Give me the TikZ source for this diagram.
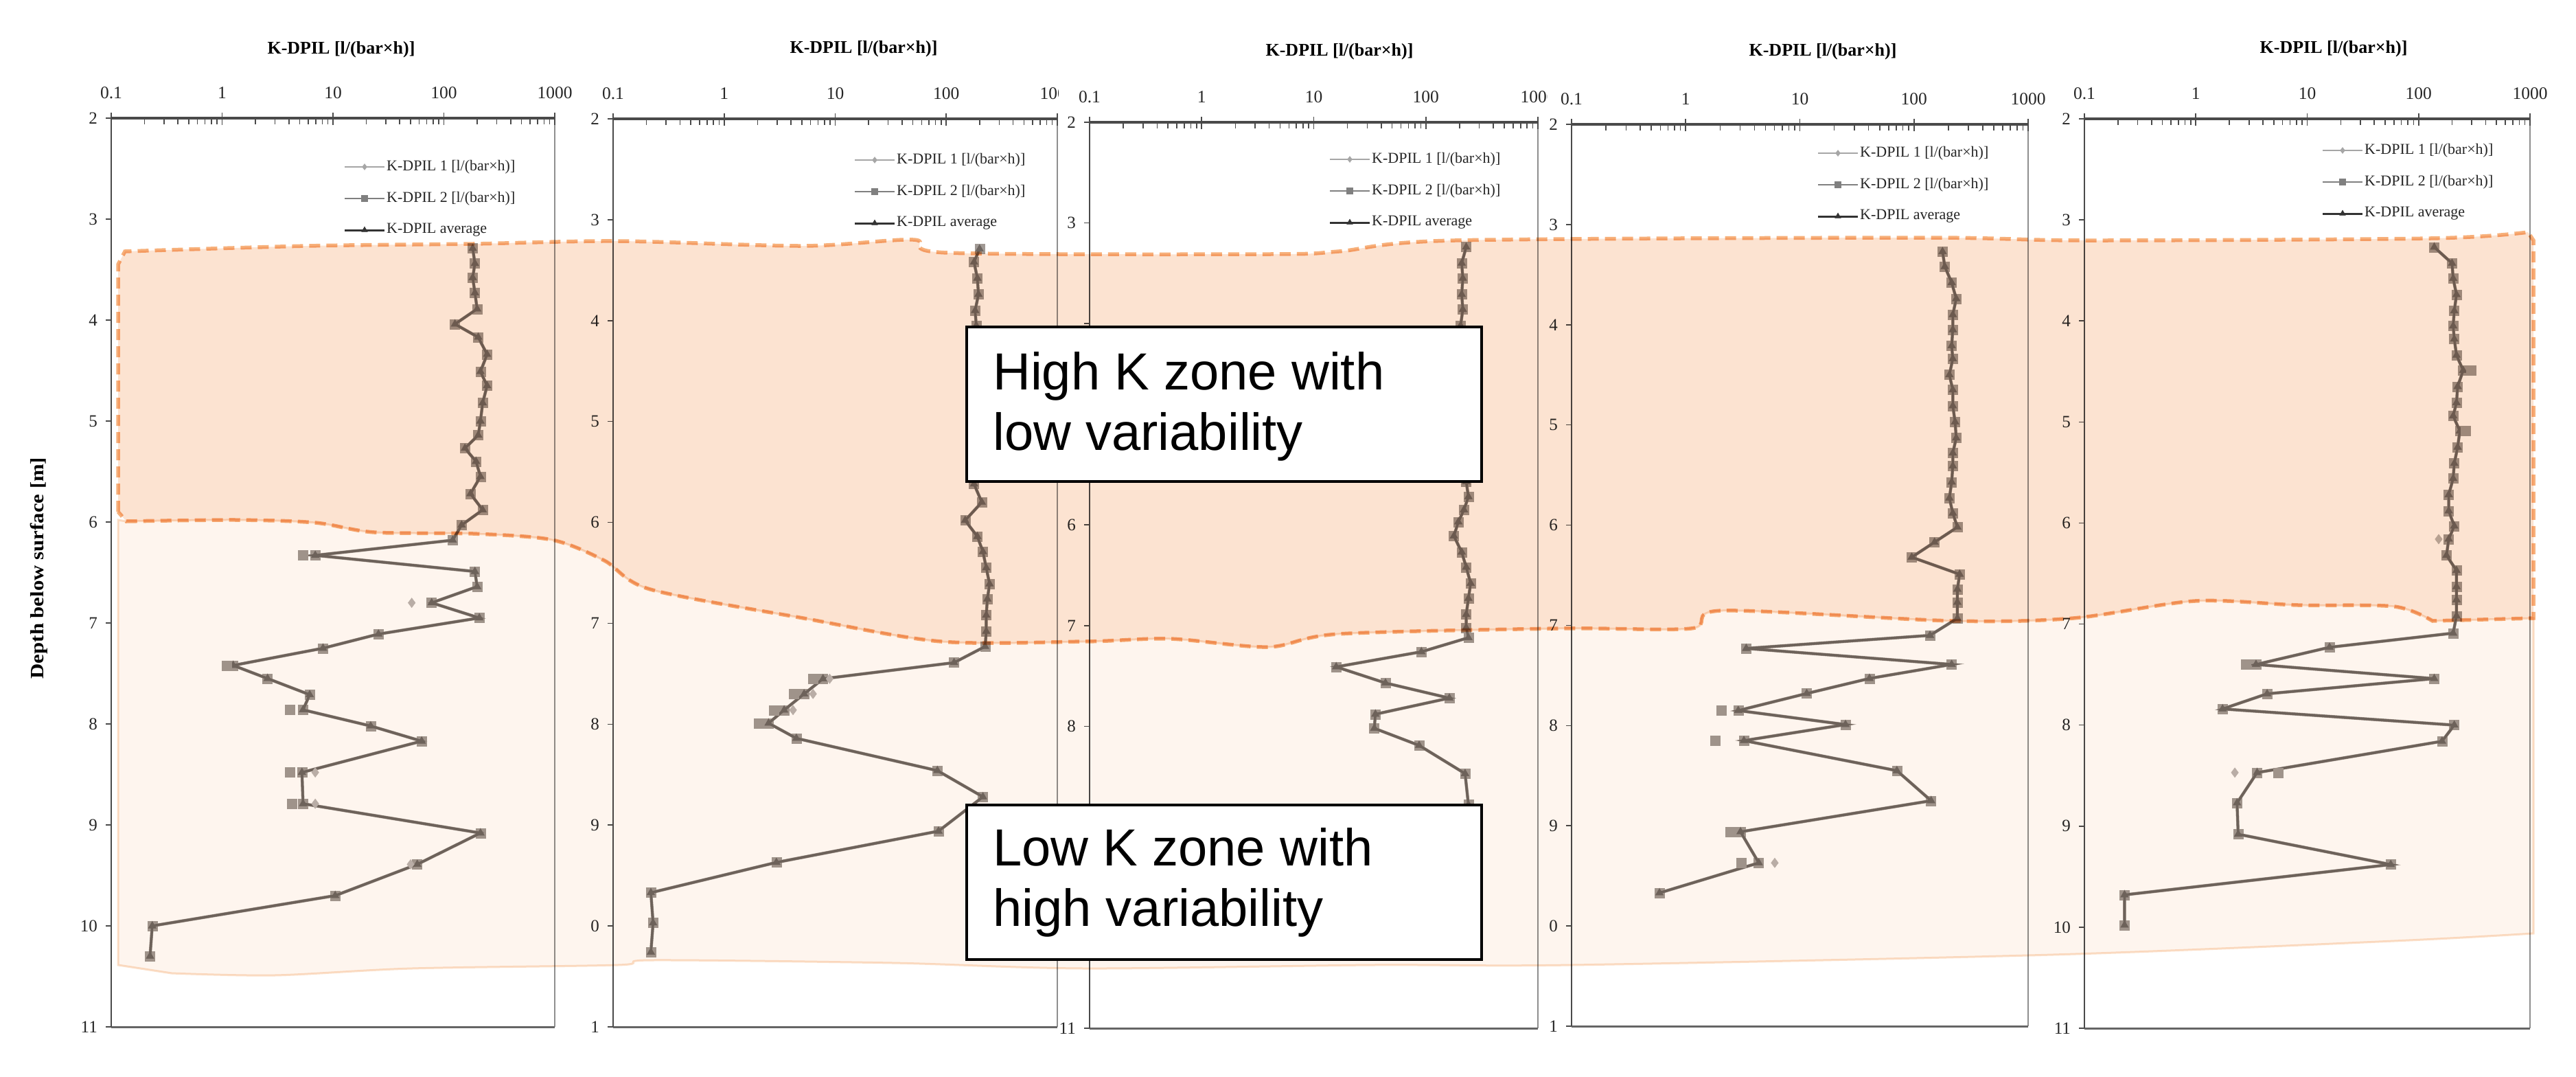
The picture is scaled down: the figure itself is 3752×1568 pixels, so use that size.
\documentclass[tikz,border=0pt]{standalone}
\usepackage{fontspec}
\setmainfont{Liberation Serif}
\newfontfamily\boxfont{Liberation Sans}
\usetikzlibrary{plotmarks}
\definecolor{axcol}{HTML}{4A4A4A}
\definecolor{rcol}{HTML}{8F8F8F}
\definecolor{diacol}{HTML}{BAB5B2}
\definecolor{sqcol}{HTML}{A09994}
\definecolor{avgcol}{HTML}{6E6661}
\definecolor{hzfill}{HTML}{FCE3D1}
\definecolor{hzline}{HTML}{F7B07A}
\definecolor{lzfill}{HTML}{FEF5EE}
\definecolor{lzline}{HTML}{FBDFC8}
\tikzset{
  lframe/.style={draw=axcol, line width=2.5pt},
  rframe/.style={draw=rcol, line width=2pt},
  bframe/.style={draw=axcol!85, line width=3pt},
  taxis/.style={draw=axcol, line width=3.5pt},
  tickm/.style={draw=axcol, line width=1.6pt},
  ticklab/.style={font=\fontsize{25.5}{25.5}\selectfont, inner sep=0pt, text=black!85, yshift=37pt},
  depthlab/.style={font=\fontsize{25}{25}\selectfont, anchor=east, inner sep=0pt, xshift=-20pt, text=black!85},
  ptitle/.style={font=\bfseries\fontsize{26}{26}\selectfont, inner sep=0pt},
  legtext/.style={font=\fontsize{22}{22}\selectfont, anchor=west, inner sep=0pt, text=black!85},
  dia/.style={draw=diacol, line width=2.8pt, mark=diamond*, mark size=7pt, mark options={fill=diacol, draw=diacol, line width=0.5pt}},
  sq/.style={draw=sqcol, line width=4.5pt, mark=square*, mark size=7pt, mark options={fill=sqcol, draw=sqcol, line width=0.5pt}},
  avg/.style={draw=avgcol, line width=3.6pt, mark=triangle*, mark size=6.5pt, mark options={fill=avgcol, draw=avgcol, line width=0.5pt}},
  legdia/.style={draw=black!35, line width=2pt, mark=diamond*, mark size=4.5pt, mark options={fill=black!35, draw=black!35, line width=0.4pt}},
  legsq/.style={draw=black!50, line width=2.4pt, mark=square*, mark size=4.5pt, mark options={fill=black!50, draw=black!50, line width=0.4pt}},
  legavg/.style={draw=black!80, line width=3pt, mark=triangle*, mark size=5pt, mark options={fill=black!80, draw=black!80, line width=0.4pt}},
  hzone/.style={fill=hzfill, blend mode=multiply},
  hzborder/.style={draw=hzline, line width=5.5pt, dash pattern=on 16pt off 9pt, blend mode=multiply},
  lzone/.style={fill=lzfill, draw=lzline, line width=3pt, blend mode=multiply},
  zbox/.style={draw=black, fill=white, line width=4pt, inner sep=0pt, anchor=north west, minimum width=750pt, minimum height=225pt},
  btext/.style={font=\boxfont\fontsize{76}{88}\selectfont, anchor=base west, inner sep=0pt},
  ylab/.style={font=\bfseries\fontsize{27.5}{27.5}\selectfont, inner sep=0pt, rotate=90}
}
% axes of one panel, drawn in data coordinates (log10 K, depth)
% #1 name, #2 list depth/label, #3 code for the last top label
\newcommand\axes[3]{%
  \draw[rframe] (3,2) -- (3,11);
  \draw[bframe] (-1,11) -- (3,11);
  \draw[lframe] (-1,2) -- (-1,11);
  \foreach \i in {-1,0,1,2}{\foreach \mm in {2,...,9}{\draw[tickm] ({\i+log10(\mm)},2) -- ++(0pt,-9pt);}}
  \foreach \i in {-1,...,3}{\draw[tickm] (\i,2) ++(0pt,8pt) -- ++(0pt,-18pt);}
  \draw[taxis] (-1,2) -- (3,2);
  \foreach \i/\lab in {0/0.1,1/1,2/10,3/100}{\node[ticklab] (#1-x\i) at ({\i-1},2) {\lab};}
  #3
  \foreach \d in {2,...,11}{\draw[tickm] (-1,\d) -- ++(-8pt,0pt);}
  \foreach \d/\lab in {#2}{\node[depthlab] (#1-d\d) at (-1,\d) {\lab};}
}
\newcommand\legendbox[3]{%
  \draw[legdia] (#2,#3) -- ++(58,0); \draw[legdia] plot coordinates {({#2+29},#3)};
  \node[legtext] (#1-l1) at ({#2+61},#3) {K-DPIL 1 [l/(bar×h)]};
  \draw[legsq] (#2,{#3+46}) -- ++(58,0); \draw[legsq] plot coordinates {({#2+29},{#3+46})};
  \node[legtext] (#1-l2) at ({#2+61},{#3+46}) {K-DPIL 2 [l/(bar×h)]};
  \draw[legavg] (#2,{#3+92}) -- ++(58,0); \draw[legavg] plot coordinates {({#2+29},{#3+92})};
  \node[legtext] (#1-l3) at ({#2+61},{#3+92}) {K-DPIL average};
}
% data of the five profiles
\newcommand\dA[1]{\draw[#1] plot coordinates {(2.26,3.29) (2.28,3.44) (2.26,3.58) (2.28,3.73) (2.30,3.89) (2.10,4.04) (2.31,4.17) (2.39,4.34) (2.33,4.51) (2.39,4.65) (2.35,4.82) (2.33,5.00) (2.31,5.14) (2.19,5.27) (2.29,5.40) (2.33,5.55) (2.24,5.72) (2.35,5.88) (2.16,6.03) (2.08,6.18) (0.84,6.33) (2.28,6.49) (2.30,6.64) (1.89,6.80) (2.32,6.95) (1.41,7.11) (0.91,7.25) (0.10,7.42) (0.41,7.55) (0.79,7.71) (0.73,7.86) (1.34,8.02) (1.80,8.17) (0.72,8.48) (0.73,8.79) (2.33,9.08) (1.76,9.39) (1.02,9.70) (-0.63,10.00) (-0.65,10.30)};}
\newcommand\dB[1]{\draw[#1] plot coordinates {(2.30,3.29) (2.25,3.42) (2.28,3.58) (2.29,3.74) (2.26,3.90) (2.27,4.05) (2.29,4.21) (2.27,4.36) (2.30,4.52) (2.28,4.67) (2.29,4.83) (2.27,4.98) (2.30,5.14) (2.28,5.29) (2.29,5.45) (2.25,5.62) (2.32,5.80) (2.17,5.98) (2.28,6.14) (2.33,6.29) (2.36,6.45) (2.39,6.61) (2.37,6.76) (2.36,6.92) (2.36,7.08) (2.35,7.23) (2.07,7.39) (0.89,7.55) (0.72,7.70) (0.54,7.86) (0.40,7.99) (0.65,8.14) (1.92,8.46) (2.33,8.72) (1.93,9.06) (0.47,9.37) (-0.66,9.67) (-0.64,9.97) (-0.66,10.26)};}
\newcommand\dC[1]{\draw[#1] plot coordinates {(2.36,3.24) (2.32,3.40) (2.33,3.55) (2.32,3.71) (2.33,3.86) (2.31,4.02) (2.34,4.17) (2.32,4.33) (2.35,4.48) (2.33,4.64) (2.31,4.79) (2.34,4.95) (2.32,5.10) (2.35,5.26) (2.33,5.41) (2.36,5.57) (2.38,5.72) (2.34,5.85) (2.29,5.97) (2.25,6.11) (2.32,6.27) (2.36,6.42) (2.40,6.58) (2.38,6.73) (2.36,6.89) (2.36,7.02) (2.38,7.12) (1.96,7.26) (1.20,7.41) (1.64,7.57) (2.21,7.72) (1.55,7.88) (1.54,8.02) (1.94,8.19) (2.35,8.47) (2.38,8.78) (2.20,9.08) (0.60,9.38) (-0.62,9.68) (-0.62,9.98) (-0.64,10.28)};}
\newcommand\dD[1]{\draw[#1] plot coordinates {(2.25,3.27) (2.27,3.42) (2.33,3.58) (2.37,3.74) (2.34,3.90) (2.34,4.05) (2.33,4.21) (2.34,4.34) (2.31,4.50) (2.34,4.65) (2.34,4.81) (2.36,4.97) (2.37,5.13) (2.34,5.28) (2.34,5.41) (2.33,5.57) (2.31,5.73) (2.34,5.88) (2.38,6.02) (2.18,6.17) (1.98,6.32) (2.40,6.49) (2.38,6.64) (2.38,6.77) (2.38,6.93) (2.14,7.10) (0.53,7.23) (2.33,7.39) (1.61,7.53) (1.06,7.68) (0.46,7.85) (1.40,7.99) (0.51,8.15) (1.85,8.45) (2.15,8.75) (0.48,9.06) (0.64,9.37) (-0.23,9.67)};}
\newcommand\dE[1]{\draw[#1] plot coordinates {(2.14,3.27) (2.30,3.43) (2.31,3.58) (2.34,3.74) (2.32,3.90) (2.31,4.05) (2.32,4.18) (2.34,4.34) (2.40,4.49) (2.35,4.65) (2.34,4.81) (2.31,4.94) (2.37,5.09) (2.35,5.25) (2.32,5.41) (2.31,5.56) (2.27,5.72) (2.27,5.88) (2.32,6.03) (2.27,6.16) (2.25,6.32) (2.34,6.47) (2.34,6.63) (2.34,6.76) (2.34,6.92) (2.31,7.09) (1.20,7.23) (0.54,7.40) (2.14,7.54) (0.64,7.69) (0.24,7.84) (2.32,8.00) (2.21,8.16) (0.55,8.47) (0.37,8.77) (0.38,9.08) (1.75,9.38) (-0.64,9.68) (-0.64,9.98)};}
\begin{document}
\begin{tikzpicture}[x=1pt,y=-1pt]
\useasboundingbox (0,0) rectangle (3752,1568);
\fill[white] (0,0) rectangle (3752,1568);

% ---------------- panel 1
\begin{scope}[shift={(323.5,-122)}, x=161.5pt, y=-147pt]
  \axes{p1}{2/2,3/3,4/4,5/5,6/6,7/7,8/8,9/9,10/10,11/11}{\node[ticklab] (p1-x4) at (3,2) {1000};}
  \dA{dia} \dA{sq} \dA{avg}
  \draw[dia] plot[only marks] coordinates {(1.71,6.80) (0.84,8.48) (0.84,8.79) (1.70,9.39)};
  \draw[sq] plot[only marks] coordinates {(0.73,6.33) (0.61,7.86) (0.61,8.48) (0.63,8.79) (0.04,7.42)};
\end{scope}
% ---------------- panel 2
\begin{scope}[shift={(1054.75,-120.78)}, x=161.75pt, y=-146.89pt]
  \axes{p2}{2/2,3/3,4/4,5/5,6/6,7/7,8/8,9/9,10/0,11/1}{\begin{scope}\clip (2.6,1.3) rectangle (3.012,1.95); \node[ticklab] (p2-x4) at (3,2) {1000};\end{scope}}
  \dB{dia} \dB{sq} \dB{avg}
  \draw[dia] plot[only marks] coordinates {(0.95,7.55) (0.80,7.70) (0.62,7.86)};
  \draw[sq] plot[only marks] coordinates {(0.80,7.55) (0.63,7.70) (0.45,7.86) (0.31,7.99)};
\end{scope}
% ---------------- panel 3
\begin{scope}[shift={(1750.25,-115.11)}, x=163.25pt, y=-146.56pt]
  \axes{p3}{2/2,3/3,6/6,7/7,8/8,11/11}{\begin{scope}\clip (2.6,1.3) rectangle (3.08,1.95); \node[ticklab] (p3-x4) at (3,2) {1000};\end{scope}}
  \dC{dia} \dC{sq} \dC{avg}
\end{scope}
% ---------------- panel 4
\begin{scope}[shift={(2455.25,-110.78)}, x=166.25pt, y=-145.89pt]
  \axes{p4}{2/2,3/3,4/4,5/5,6/6,7/7,8/8,9/9,10/0,11/1}{\node[ticklab] (p4-x4) at (3,2) {1000};}
  \dD{dia} \dD{sq} \dD{avg}
  \draw[dia] plot[only marks] coordinates {(0.78,9.37)};
  \draw[sq] plot[only marks] coordinates {(0.31,7.85) (0.26,8.15) (0.39,9.06) (0.49,9.37)};
\end{scope}
% ---------------- panel 5
\begin{scope}[shift={(3198.25,-121.22)}, x=162.25pt, y=-147.11pt]
  \axes{p5}{2/2,3/3,4/4,5/5,6/6,7/7,8/8,9/9,10/10,11/11}{\node[ticklab] (p5-x4) at (3,2) {1000};}
  \dE{dia} \dE{sq} \dE{avg}
  \draw[dia] plot[only marks] coordinates {(0.35,8.47) (2.18,6.16)};
  \draw[sq] plot[only marks] coordinates {(0.45,7.40) (0.74,8.47) (2.47,4.49) (2.42,5.09)};
\end{scope}

% titles and legends
\node[ptitle] (t1) at (497,72) {K-DPIL [l/(bar×h)]};
\node[ptitle] (t2) at (1258,71) {K-DPIL [l/(bar×h)]};
\node[ptitle] (t3) at (1951,75) {K-DPIL [l/(bar×h)]};
\node[ptitle] (t4) at (2655,75) {K-DPIL [l/(bar×h)]};
\node[ptitle] (t5) at (3399,71) {K-DPIL [l/(bar×h)]};
\legendbox{g1}{502}{243}
\legendbox{g2}{1245}{233}
\legendbox{g3}{1937}{232}
\legendbox{g4}{2648}{223}
\legendbox{g5}{3383}{219}

% low K zone
\path[lzone] (172,757) -- (172,1405) -- plot[smooth,tension=0.5] coordinates {(250,1417) (400,1420) (600,1410) (900,1405) (950,1398) (1300,1402) (1580,1410) (2000,1405) (2290,1405) (2990,1390) (3487,1370) (3690,1359)} -- (3690,900)
  -- plot[smooth,tension=0.5] coordinates {(3543,904) (3487,883) (3347,881) (3197,875) (3020,900) (2844,904) (2509,889) (2463,915) (2270,915) (1950,923) (1847,942) (1704,930) (1580,934) (1371,934) (1170,900) (947,858) (880,816) (804,786) (689,777) (545,775) (459,761) (344,757) (184,759)} -- cycle;
% high K zone
\path[hzone] (172,745) -- (172,385) -- plot[smooth,tension=0.5] coordinates {(182,366) (448,358) (689,355) (900,351) (1170,358) (1330,349) (1380,368) (1850,370) (1950,366) (2119,350) (2800,346) (3036,350) (3540,347) (3682,338)} -- (3690,350) -- (3690,900)
  -- plot[smooth,tension=0.5] coordinates {(3543,904) (3487,883) (3347,881) (3197,875) (3020,900) (2844,904) (2509,889) (2463,915) (2270,915) (1950,923) (1847,942) (1704,930) (1580,934) (1371,934) (1170,900) (947,858) (880,816) (804,786) (689,777) (545,775) (459,761) (344,757) (184,759)} -- cycle;
\path[hzborder] (172,745) -- (172,385) -- plot[smooth,tension=0.5] coordinates {(182,366) (448,358) (689,355) (900,351) (1170,358) (1330,349) (1380,368) (1850,370) (1950,366) (2119,350) (2800,346) (3036,350) (3540,347) (3682,338)} -- (3690,350) -- (3690,900)
  -- plot[smooth,tension=0.5] coordinates {(3543,904) (3487,883) (3347,881) (3197,875) (3020,900) (2844,904) (2509,889) (2463,915) (2270,915) (1950,923) (1847,942) (1704,930) (1580,934) (1371,934) (1170,900) (947,858) (880,816) (804,786) (689,777) (545,775) (459,761) (344,757) (184,759)} -- cycle;

% zone labels
\node[zbox] (hbox) at (1406,474) {};
\node[btext] (h1) at (1446,567) {High K zone with};
\node[btext] (h2) at (1446,655) {low variability};
\node[zbox] (lbox) at (1406,1170) {};
\node[btext] (l1) at (1446,1260) {Low K zone with};
\node[btext] (l2) at (1446,1348) {high variability};

% depth axis title
\node[ylab] (ylab) at (57,827) {\scalebox{1.12}[1]{Depth below surface [m]}};
\end{tikzpicture}
\end{document}
